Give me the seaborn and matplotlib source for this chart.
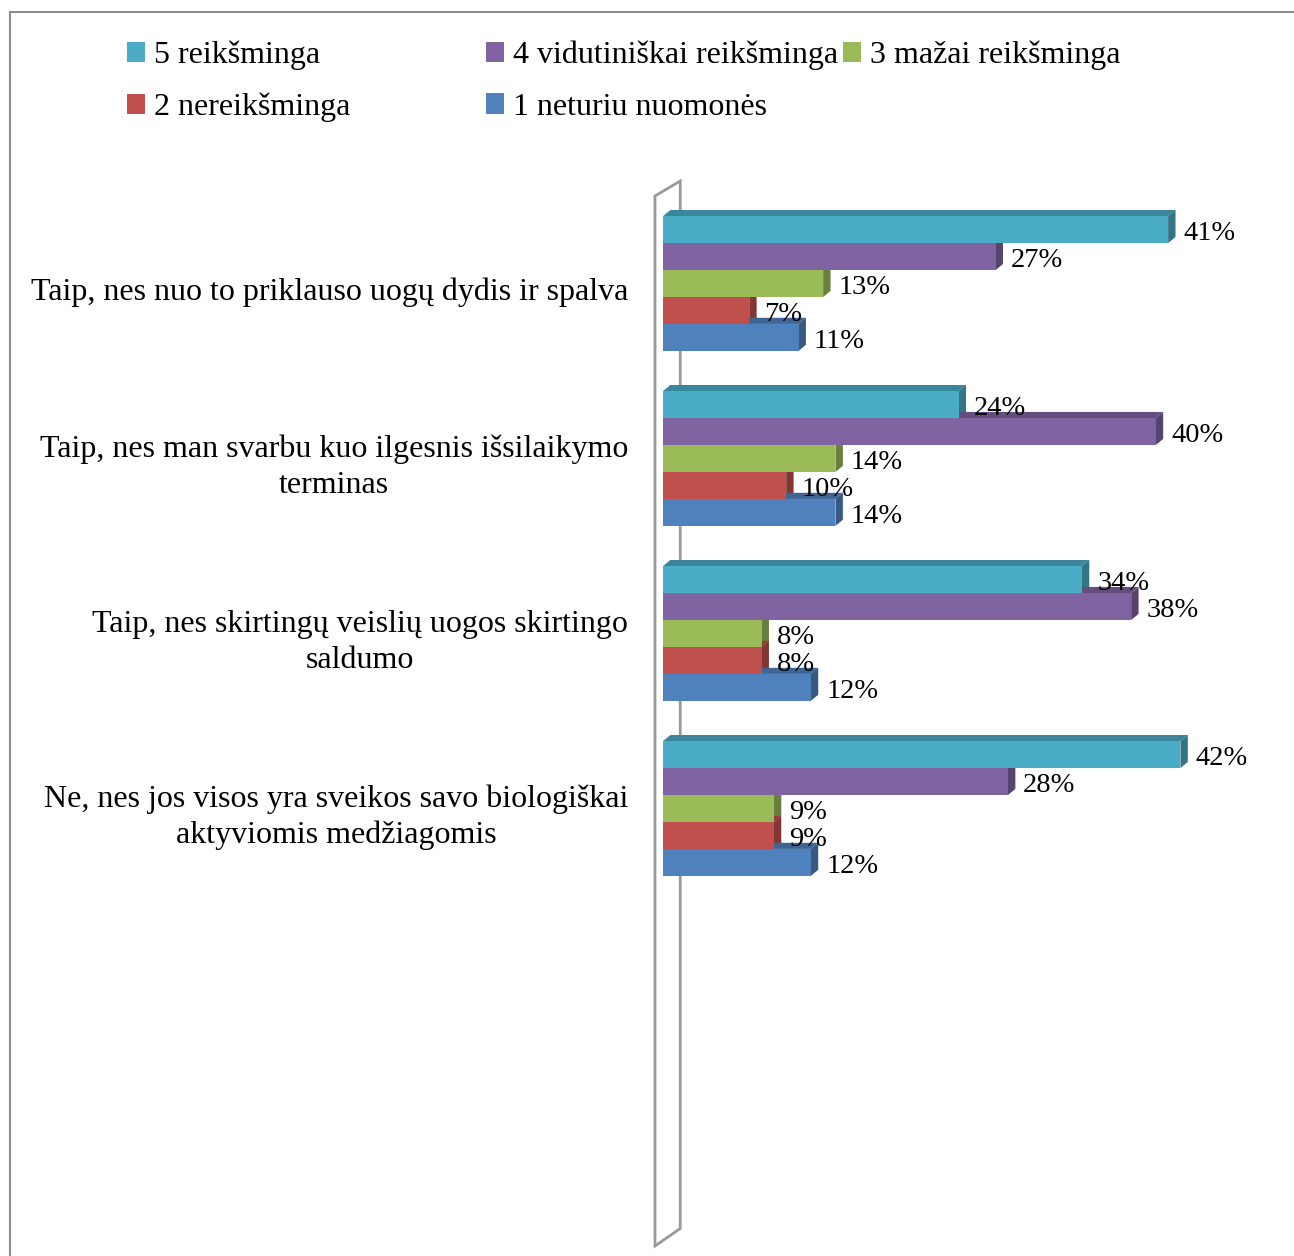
import numpy as np
import pandas as pd
import matplotlib
matplotlib.use("Agg")
import matplotlib.pyplot as plt
import matplotlib.transforms as mtransforms
from matplotlib.patches import Polygon, Patch
from matplotlib.lines import Line2D
from matplotlib.colors import to_rgb
import seaborn as sns

# Duomenys
categories = [
    "Taip, nes nuo to priklauso uogų dydis ir spalva",
    "Taip, nes man svarbu kuo ilgesnis išsilaikymo\nterminas",
    "Taip, nes skirtingų veislių uogos skirtingo\nsaldumo",
    "Ne, nes jos visos yra sveikos savo biologiškai\naktyviomis medžiagomis",
]
levels = [
    "5 reikšminga",
    "4 vidutiniškai reikšminga",
    "3 mažai reikšminga",
    "2 nereikšminga",
    "1 neturiu nuomonės",
]
vals_5 = [41, 24, 34, 42]
vals_4 = [27, 40, 38, 28]
vals_3 = [13, 14, 8, 9]
vals_2 = [7, 10, 8, 9]
vals_1 = [11, 14, 12, 12]
colors = ["#4BACC6", "#8064A2", "#9BBB59", "#C0504D", "#4F81BD"]

rows = []
for lvl, vals in zip(levels, [vals_5, vals_4, vals_3, vals_2, vals_1]):
    for cat, v in zip(categories, vals):
        rows.append({"category": cat, "level": lvl, "value": v})
df = pd.DataFrame(rows)

sns.set_style("white")
plt.rcParams["font.family"] = ["Liberation Serif", "DejaVu Serif"]
plt.rcParams["text.color"] = "black"
plt.rcParams["ytick.color"] = "black"

fig = plt.figure(figsize=(12.94, 12.56), dpi=100)
ax = fig.add_axes([663 / 1294, 10 / 1256, 616 / 1294, 1050 / 1256])

sns.barplot(data=df, x="value", y="category", hue="level", orient="h",
            order=categories, hue_order=levels, palette=colors,
            width=0.77, errorbar=None, saturation=1, legend=False, ax=ax)

ax.set_xlim(0, 50)
ax.set_ylim(5.5, -0.5)

# 3D efektas
dx = 0.6
dy = 0.035
for container, col in zip(ax.containers, colors):
    rgb = np.array(to_rgb(col))
    side = tuple(rgb * 0.68)
    top = tuple(rgb * 0.78)
    for p in container.patches:
        p.set_zorder(3)
        p.set_edgecolor("none")
        x0 = p.get_x()
        w = p.get_width()
        yt = p.get_y()
        yb = yt + p.get_height()
        ax.add_patch(Polygon([(x0, yt), (x0 + w, yt), (x0 + w + dx, yt - dy),
                              (x0 + dx, yt - dy)], closed=True,
                             facecolor=top, edgecolor="none", zorder=2))
        ax.add_patch(Polygon([(x0 + w, yt), (x0 + w + dx, yt - dy),
                              (x0 + w + dx, yb - dy), (x0 + w, yb)], closed=True,
                             facecolor=side, edgecolor="none", zorder=2))
    labels = ax.bar_label(container, fmt="{:.0f}%", padding=11, fontsize=20.5,
                          zorder=4, color="black")
    for ann in labels:
        ann.xyann = (ann.xyann[0], ann.xyann[1] - 3)

# Siena
wall = Polygon([(-0.65, -0.5), (1.4, -0.586), (1.4, 5.40), (-0.65, 5.5)],
               closed=True, facecolor="none", edgecolor="#9a9a9a", lw=2,
               zorder=1, clip_on=False)
ax.add_patch(wall)

for s in ax.spines.values():
    s.set_visible(False)
ax.set_xticks([])
ax.set_xlabel("")
ax.set_ylabel("")
ax.tick_params(axis="y", length=0, pad=25, labelsize=23)

# kategorijų etiketės – centruotos, šiek tiek žemiau grupės centro
for tick in ax.yaxis.get_major_ticks():
    lab = tick.label1
    lab.set_multialignment("center")
    lab.set_linespacing(1.3)
    lab.set_va("center")
    lab.set_transform(lab.get_transform() +
                      mtransforms.ScaledTranslation(0, -9 / 100, fig.dpi_scale_trans))

# Legenda
handles = [Patch(facecolor=c, edgecolor="none") for c in colors]
legend_cols = [([0, 3], 127), ([1, 4], 486), ([2], 843)]
for idx, xpx in legend_cols:
    fig.legend([handles[i] for i in idx], [levels[i] for i in idx],
               loc="upper left", bbox_to_anchor=(xpx / 1294, 1 - 41 / 1256),
               frameon=False, fontsize=23, handlelength=0.55, handleheight=0.6,
               handletextpad=0.3, labelspacing=0.7, borderpad=0, borderaxespad=0)

# Rėmelis
fig.add_artist(Line2D([10 / 1294, 10 / 1294], [0, 1 - 12 / 1256],
                      transform=fig.transFigure, color="#8c8c8c", lw=1.5))
fig.add_artist(Line2D([10 / 1294, 1], [1 - 12 / 1256, 1 - 12 / 1256],
                      transform=fig.transFigure, color="#8c8c8c", lw=1.5))

fig.savefig("out.png", dpi=100)
